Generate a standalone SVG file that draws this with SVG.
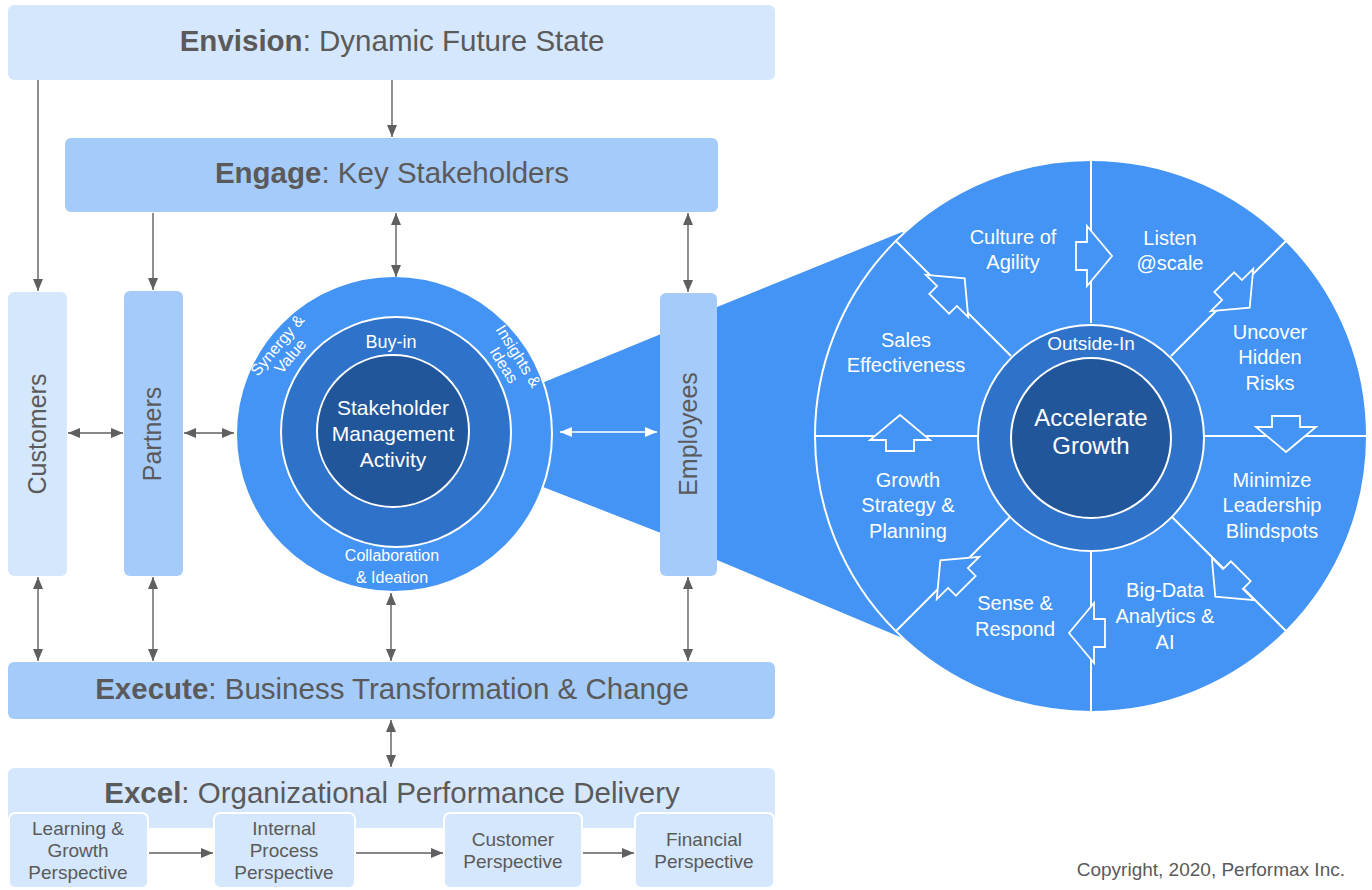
<svg xmlns="http://www.w3.org/2000/svg" width="1372" height="890" viewBox="0 0 1372 890">
<defs>
<style>
.t{font-family:"Liberation Sans",Arial,sans-serif;fill:#5a5a5a}
.h{font-size:29.5px;text-anchor:middle}
.b{font-weight:bold}
.w{font-family:"Liberation Sans",Arial,sans-serif;fill:#ffffff;text-anchor:middle}
.lt{fill:#d5e7fd}
.md{fill:#a5cbfa}
.con{stroke:#5f5f5f;stroke-width:1.4;fill:none}
.conw{stroke:#ffffff;stroke-width:1.6;fill:none}
.sub{fill:#d5e7fd;stroke:#ffffff;stroke-width:2}
.sm{font-size:19px;text-anchor:middle}
.vt{font-size:25px;text-anchor:middle}
.div{stroke:#ffffff;stroke-width:2;fill:none}
.barr{fill:#4394f5;stroke:#ffffff;stroke-width:1.8;stroke-linejoin:miter}
</style>
<marker id="ah" viewBox="0 0 12 10" refX="12" refY="5" markerWidth="12" markerHeight="10" orient="auto-start-reverse" markerUnits="userSpaceOnUse"><path d="M0,0 L12,5 L0,10 z" fill="#5f5f5f"/></marker>
<marker id="ahw" viewBox="0 0 12 10" refX="12" refY="5" markerWidth="12" markerHeight="10" orient="auto-start-reverse" markerUnits="userSpaceOnUse"><path d="M0,0 L12,5 L0,10 z" fill="#ffffff"/></marker>
<path id="barrow" d="M-11,-14 L0,-14 L0,-30 L25,0 L0,30 L0,14 L-11,14 Z"/>
</defs>
<rect width="1372" height="890" fill="#ffffff"/>

<g id="wedges">
<polygon points="520,392 661,334 661,533 520,478" fill="#4394f5"/>
<polygon points="717,307 902,232 1000,300 1000,580 900,637 717,560" fill="#4394f5"/>
</g>

<g id="envision">
<rect x="8" y="5" width="767" height="75" rx="6" class="lt"/>
<text x="392" y="51" class="t h"><tspan class="b">Envision</tspan>: Dynamic Future State</text>
</g>
<g id="engage">
<rect x="65" y="138" width="653" height="74" rx="6" class="md"/>
<text x="392" y="183" class="t h"><tspan class="b">Engage</tspan>: Key Stakeholders</text>
</g>
<g id="customers">
<rect x="8" y="292" width="59" height="284" rx="6" class="lt"/>
<text transform="translate(46,434) rotate(-90)" class="t vt">Customers</text>
</g>
<g id="partners">
<rect x="124" y="291" width="59" height="285" rx="6" class="md"/>
<text transform="translate(161,434) rotate(-90)" class="t vt">Partners</text>
</g>
<g id="employees">
<rect x="660" y="293" width="57" height="283" rx="6" class="md"/>
<text transform="translate(697,434) rotate(-90)" class="t vt">Employees</text>
</g>

<g id="stakeholder-circle">
<circle cx="394" cy="434" r="158" fill="#4394f5" stroke="#ffffff" stroke-width="2"/>
<circle cx="396" cy="432" r="115" fill="#2e72c9" stroke="#ffffff" stroke-width="2"/>
<circle cx="393" cy="431" r="76" fill="#22569a" stroke="#ffffff" stroke-width="2"/>
<text x="391" y="348" class="w" style="font-size:18px">Buy-in</text>
<text class="w" style="font-size:21px"><tspan x="393" y="415">Stakeholder</tspan><tspan x="393" y="441">Management</tspan><tspan x="393" y="467">Activity</tspan></text>
<text class="w" style="font-size:16px"><tspan x="392" y="561">Collaboration</tspan><tspan x="392" y="583">&amp; Ideation</tspan></text>
<text transform="translate(283,350) rotate(-50)" class="w" style="font-size:16px"><tspan x="0" y="-2">Synergy &amp;</tspan><tspan x="0" y="15">Value</tspan></text>
<text transform="translate(512,360) rotate(58)" class="w" style="font-size:16px"><tspan x="0" y="-2">Insights &amp;</tspan><tspan x="0" y="15">Ideas</tspan></text>
</g>

<g id="growth-circle">
<circle cx="1091" cy="436" r="276" fill="#4394f5" stroke="#ffffff" stroke-width="2"/>
<path class="div" d="M1011,356 L896,241 M1171,356 L1286,241 M1171,516 L1286,631 M1011,516 L896,631 M1091,323 L1091,160 M1091,549 L1091,712 M978,436 L815,436 M1204,436 L1367,436"/>
<circle cx="1091" cy="438" r="113" fill="#2e72c9" stroke="#ffffff" stroke-width="2"/>
<circle cx="1091" cy="438" r="80" fill="#22569a" stroke="#ffffff" stroke-width="2"/>
<text x="1091" y="350" class="w" style="font-size:19px">Outside-In</text>
<text class="w" style="font-size:24px"><tspan x="1091" y="426">Accelerate</tspan><tspan x="1091" y="454">Growth</tspan></text>
<g class="w" style="font-size:20px">
<text><tspan x="1013" y="244">Culture of</tspan><tspan x="1013" y="269">Agility</tspan></text>
<text><tspan x="1170" y="245">Listen</tspan><tspan x="1170" y="270">@scale</tspan></text>
<text><tspan x="906" y="347">Sales</tspan><tspan x="906" y="372">Effectiveness</tspan></text>
<text><tspan x="1270" y="339">Uncover</tspan><tspan x="1270" y="364">Hidden</tspan><tspan x="1270" y="390">Risks</tspan></text>
<text><tspan x="908" y="487">Growth</tspan><tspan x="908" y="512">Strategy &amp;</tspan><tspan x="908" y="538">Planning</tspan></text>
<text><tspan x="1272" y="487">Minimize</tspan><tspan x="1272" y="512">Leadership</tspan><tspan x="1272" y="538">Blindspots</tspan></text>
<text><tspan x="1015" y="610">Sense &amp;</tspan><tspan x="1015" y="636">Respond</tspan></text>
<text><tspan x="1165" y="597">Big-Data</tspan><tspan x="1165" y="623">Analytics &amp;</tspan><tspan x="1165" y="649">AI</tspan></text>
</g>
<use href="#barrow" class="barr" transform="translate(1087,256) rotate(0)"/>
<use href="#barrow" class="barr" transform="translate(1232,290) rotate(45)"/>
<use href="#barrow" class="barr" transform="translate(1286,427) rotate(90)"/>
<use href="#barrow" class="barr" transform="translate(1233,579) rotate(135)"/>
<use href="#barrow" class="barr" transform="translate(1094,633) rotate(180)"/>
<use href="#barrow" class="barr" transform="translate(958,578) rotate(225)"/>
<use href="#barrow" class="barr" transform="translate(900,440) rotate(270)"/>
<use href="#barrow" class="barr" transform="translate(947,296) rotate(315)"/>
</g>

<g id="execute">
<rect x="8" y="662" width="767" height="57" rx="6" class="md"/>
<text x="392" y="699" class="t h"><tspan class="b">Execute</tspan>: Business Transformation &amp; Change</text>
</g>
<g id="excel">
<rect x="8" y="768" width="767" height="60" rx="6" class="lt"/>
<text x="392" y="803" class="t h"><tspan class="b">Excel</tspan>: Organizational Performance Delivery</text>
</g>
<g id="learning">
<rect x="9" y="813" width="139" height="75" rx="6" class="sub"/>
<text class="t sm"><tspan x="78" y="835">Learning &amp;</tspan><tspan x="78" y="857">Growth</tspan><tspan x="78" y="879">Perspective</tspan></text>
</g>
<g id="internal">
<rect x="214" y="813" width="141" height="75" rx="6" class="sub"/>
<text class="t sm"><tspan x="284" y="835">Internal</tspan><tspan x="284" y="857">Process</tspan><tspan x="284" y="879">Perspective</tspan></text>
</g>
<g id="customer-persp">
<rect x="444" y="813" width="138" height="75" rx="6" class="sub"/>
<text class="t sm"><tspan x="513" y="846">Customer</tspan><tspan x="513" y="868">Perspective</tspan></text>
</g>
<g id="financial">
<rect x="635" y="813" width="139" height="75" rx="6" class="sub"/>
<text class="t sm"><tspan x="704" y="846">Financial</tspan><tspan x="704" y="868">Perspective</tspan></text>
</g>

<g id="connectors">
<path class="con" d="M38,80 V291" marker-end="url(#ah)"/>
<path class="con" d="M392,80 V137" marker-end="url(#ah)"/>
<path class="con" d="M153,213 V290" marker-end="url(#ah)"/>
<path class="con" d="M396,213 V277" marker-start="url(#ah)" marker-end="url(#ah)"/>
<path class="con" d="M688,213 V292" marker-start="url(#ah)" marker-end="url(#ah)"/>
<path class="con" d="M68,433 H123" marker-start="url(#ah)" marker-end="url(#ah)"/>
<path class="con" d="M184,433 H234" marker-start="url(#ah)" marker-end="url(#ah)"/>
<path class="con" d="M38,577 V661" marker-start="url(#ah)" marker-end="url(#ah)"/>
<path class="con" d="M153,577 V661" marker-start="url(#ah)" marker-end="url(#ah)"/>
<path class="con" d="M391,593 V661" marker-start="url(#ah)" marker-end="url(#ah)"/>
<path class="con" d="M688,577 V661" marker-start="url(#ah)" marker-end="url(#ah)"/>
<path class="con" d="M391,720 V767" marker-start="url(#ah)" marker-end="url(#ah)"/>
<path class="con" d="M149,853 H213" marker-end="url(#ah)"/>
<path class="con" d="M356,853 H443" marker-end="url(#ah)"/>
<path class="con" d="M583,853 H634" marker-end="url(#ah)"/>
<path class="conw" d="M560,432 H657" marker-start="url(#ahw)" marker-end="url(#ahw)"/>
</g>

<text x="1345" y="876" class="t" style="font-size:19px;text-anchor:end">Copyright, 2020, Performax Inc.</text>
</svg>
